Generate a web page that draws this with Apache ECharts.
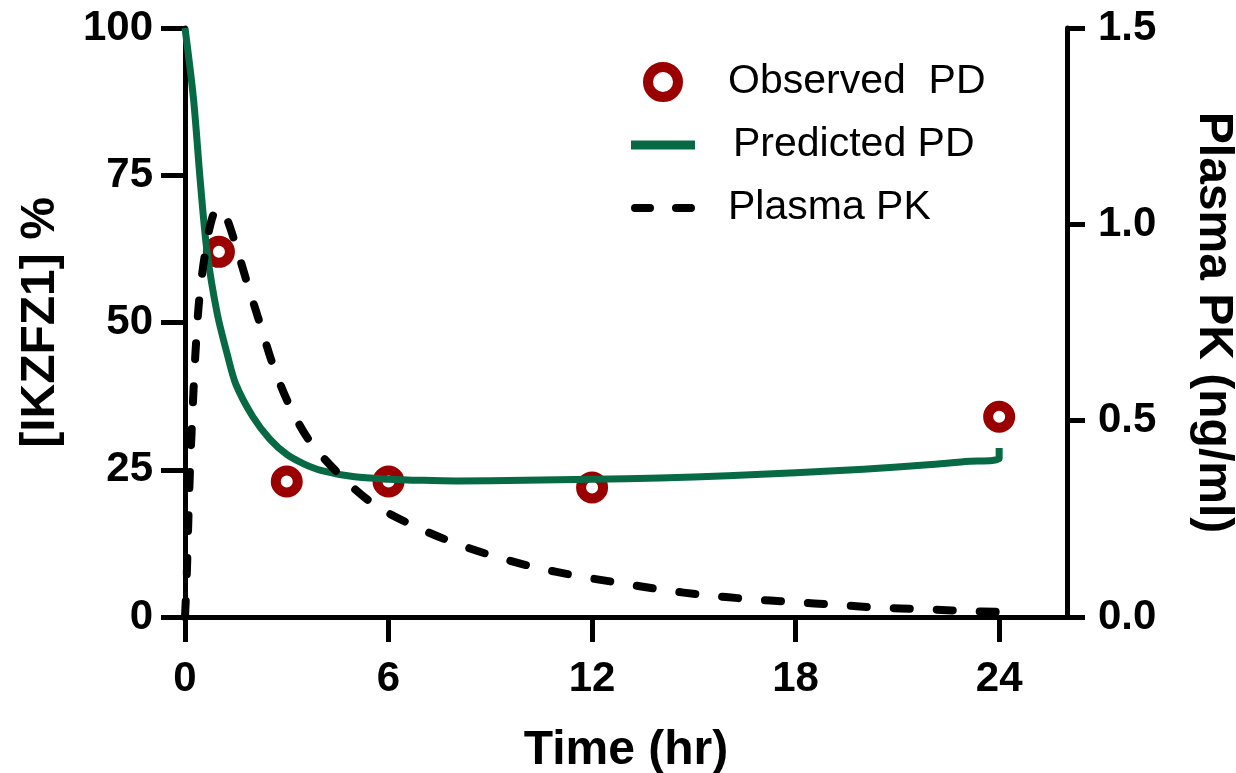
<!DOCTYPE html>
<html>
<head>
<meta charset="utf-8">
<title>IKZF1 PK/PD</title>
<script src="https://cdn.jsdelivr.net/npm/echarts@6/dist/echarts.min.js"></script>
<style>
  html, body { margin: 0; padding: 0; background: #ffffff; }
  #chart { width: 1236px; height: 773px; }
</style>
</head>
<body>
<div id="chart"></div>
<script>
// Observed degradation (% of baseline) at the sampling times
const observedTimes = [1, 3, 6, 12, 24];
const observedPD = [62, 23, 23, 22, 34];

// Model-predicted PD curve: [time (hr), % remaining]
const predictedTimes = [0, 0.25, 0.45, 0.65, 0.95, 1.25, 1.5, 2, 2.5, 3, 3.5, 4, 5, 6, 7, 8, 10, 12, 14, 16, 18, 20, 22, 23, 24, 24];
const predictedPD = [100, 88, 74, 62, 51.5, 44.5, 39.5, 34, 30.2, 27.6, 26, 24.9, 23.8, 23.4, 23.2, 23.1, 23.2, 23.4, 23.6, 24, 24.5, 25.1, 25.9, 26.4, 26.9, 28.7];

// Plasma concentration profile: [time (hr), ng/ml]
const pkTimes = [0, 0.05, 0.1, 0.15, 0.22, 0.3, 0.4, 0.5, 0.6, 0.75, 0.95, 1.15, 1.45, 1.8, 2.2, 2.6, 3.1, 3.7, 4.7, 5.6, 6.7, 7.9, 9, 10.3, 11.6, 12.8, 14.1, 15.3, 16.6, 17.9, 19.2, 20.4, 21.8, 23.1, 24];
const pkConc = [0, 0.1, 0.25, 0.38, 0.52, 0.66, 0.79, 0.87, 0.93, 1.0, 1.04, 1.03, 0.96, 0.86, 0.75, 0.64, 0.535, 0.445, 0.35, 0.285, 0.234, 0.19, 0.158, 0.127, 0.104, 0.087, 0.069, 0.056, 0.046, 0.038, 0.031, 0.024, 0.02, 0.015, 0.013];

// Axis tick labels
const timeTicks = [0, 6, 12, 18, 24];
const pdTicks = [0, 25, 50, 75, 100];
const pkTicks = [0, 0.5, 1.0, 1.5];

const RED = '#9b0000';
const GREEN = '#086a44';
const FONT = '"Liberation Sans", Arial, sans-serif';

// Legend glyphs: a solid bar and two rounded dashes
const SOLID_ICON = 'path://M0,0H64V9H0Z';
const DASH_ICON = 'path://M4,0H19A4,4 0 0 1 19,8H4A4,4 0 0 1 4,0Z M45,0H60A4,4 0 0 1 60,8H45A4,4 0 0 1 45,0Z';

const zip = (xs, ys) => xs.map((x, i) => [x, ys[i]]);

const axisLineStyle = () => ({ color: '#000', width: 5 });
const tickLabel = { color: '#000', fontFamily: FONT, fontWeight: 'bold', fontSize: 42 };
const titleStyle = { color: '#000', fontFamily: FONT, fontWeight: 'bold', fontSize: 48 };

const chart = echarts.init(document.getElementById('chart'), null, { renderer: 'canvas' });

chart.setOption({
  animation: false,
  backgroundColor: '#ffffff',
  grid: { left: 185, right: 169, top: 28, bottom: 156, containLabel: false, outerBoundsMode: 'none' },
  legend: {
    orient: 'vertical',
    left: 631,
    top: 59,
    padding: 0,
    itemWidth: 64,
    itemHeight: 30,
    itemGap: 17,
    symbolKeepAspect: true,
    textStyle: { color: '#000', fontFamily: FONT, fontSize: 41, lineHeight: 46, padding: [0, 0, 0, 28] },
    data: [
      { name: 'Observed  PD', icon: 'circle', itemStyle: { color: '#fff', borderColor: RED, borderWidth: 10, opacity: 1 } },
      { name: 'Predicted PD', icon: SOLID_ICON, itemStyle: { color: GREEN, borderWidth: 0 }, textStyle: { padding: [0, 0, 0, 33] } },
      { name: 'Plasma PK', icon: DASH_ICON, itemStyle: { color: '#000', borderWidth: 0 } }
    ]
  },
  xAxis: {
    type: 'value',
    min: 0,
    max: 26,
    interval: 6,
    name: 'Time (hr)',
    nameLocation: 'middle',
    nameGap: 110,
    nameTextStyle: titleStyle,
    axisLine: { show: true, onZero: false, lineStyle: axisLineStyle() },
    axisTick: { show: true, length: 25, customValues: timeTicks, lineStyle: axisLineStyle() },
    axisLabel: { customValues: timeTicks, margin: 41, ...tickLabel },
    splitLine: { show: false }
  },
  yAxis: [
    {
      type: 'value',
      position: 'left',
      min: 0,
      max: 100,
      interval: 25,
      name: '[IKZFZ1] %',
      nameLocation: 'middle',
      nameRotate: 90,
      nameGap: 120,
      nameTextStyle: titleStyle,
      axisLine: { show: true, onZero: false, lineStyle: axisLineStyle() },
      axisTick: { show: true, length: 24, customValues: pdTicks, lineStyle: axisLineStyle() },
      axisLabel: { customValues: pdTicks, margin: 32, ...tickLabel },
      splitLine: { show: false }
    },
    {
      type: 'value',
      position: 'right',
      min: 0,
      max: 1.5,
      interval: 0.5,
      name: 'Plasma PK (ng/ml)',
      nameLocation: 'middle',
      nameRotate: -90,
      nameGap: 122,
      nameTextStyle: titleStyle,
      axisLine: { show: true, onZero: false, lineStyle: axisLineStyle() },
      axisTick: { show: true, length: 18, customValues: pkTicks, lineStyle: axisLineStyle() },
      axisLabel: { customValues: pkTicks, margin: 31, formatter: v => v.toFixed(1), ...tickLabel },
      splitLine: { show: false }
    }
  ],
  series: [
    {
      name: 'Observed  PD',
      type: 'scatter',
      yAxisIndex: 0,
      data: zip(observedTimes, observedPD),
      symbol: 'circle',
      symbolSize: 22,
      itemStyle: { color: '#fff', borderColor: RED, borderWidth: 10, opacity: 1 },
      z: 2
    },
    {
      name: 'Predicted PD',
      type: 'line',
      yAxisIndex: 0,
      data: zip(predictedTimes, predictedPD),
      showSymbol: false,
      symbol: 'none',
      smooth: 0.3,
      color: GREEN,
      lineStyle: { color: GREEN, width: 7, join: 'miter' },
      z: 3
    },
    {
      name: 'Plasma PK',
      type: 'line',
      yAxisIndex: 1,
      data: zip(pkTimes, pkConc),
      showSymbol: false,
      symbol: 'none',
      smooth: 0.3,
      color: '#000',
      lineStyle: { color: '#000', width: 8, type: [16, 27], cap: 'round' },
      z: 4
    }
  ]
});
</script>
</body>
</html>
